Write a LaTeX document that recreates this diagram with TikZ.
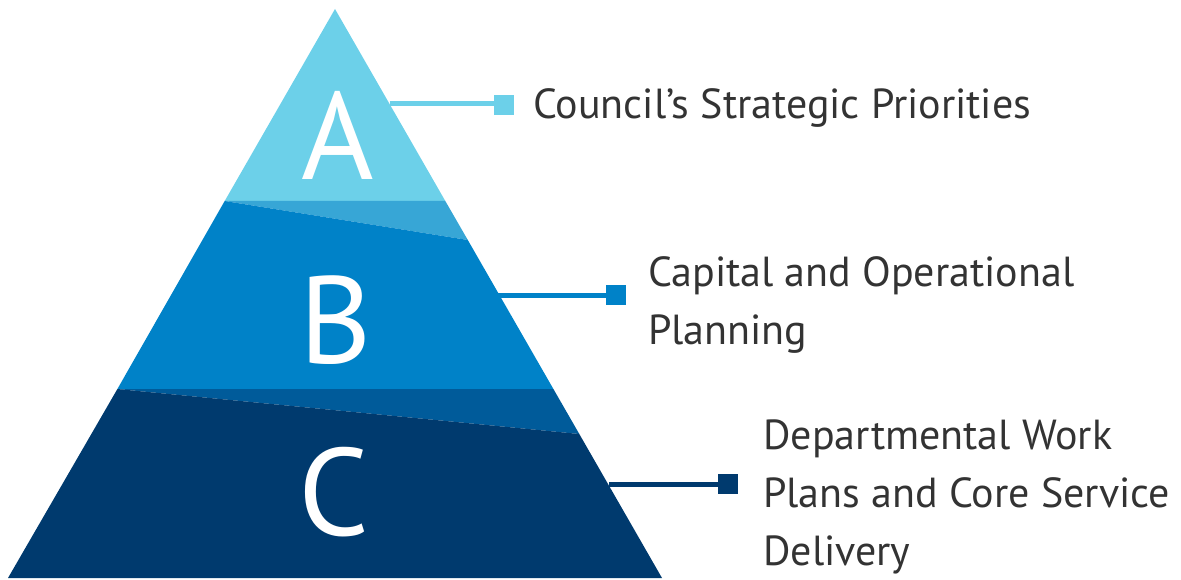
\documentclass[tikz,border=0pt]{standalone}
\usepackage{fontspec}
\setmainfont{PT Sans}
\definecolor{cA}{HTML}{6CD0E9}
\definecolor{cAB}{HTML}{37A6D6}
\definecolor{cB}{HTML}{0082C8}
\definecolor{cBC}{HTML}{005B9A}
\definecolor{cC}{HTML}{003A6E}
\definecolor{txt}{HTML}{333333}
\begin{document}
\begin{tikzpicture}[x=1pt,y=-1pt,
  lbl/.style={anchor=base west,inner sep=0pt,text=txt,font=\fontsize{42}{50}\selectfont},
  big/.style={anchor=base,inner sep=0pt,text=white,font=\fontsize{124}{130}\selectfont},
  sq/.style={minimum size=20pt,inner sep=0pt,fill=#1},
  conn/.style={line width=5pt,draw=#1}]
\useasboundingbox (0,0) rectangle (1181,580);
% pyramid
\coordinate (apex) at (335,9);
\coordinate (aL) at (224.7,201);
\coordinate (aR) at (445.3,201);
\coordinate (abR) at (467.8,240);
\coordinate (bL) at (117.4,389);
\coordinate (bR) at (553.4,389);
\coordinate (bcR) at (579.3,434);
\coordinate (cL) at (8,578);
\coordinate (cR) at (662,578);
\fill[cA] (apex) -- (aR) -- (aL) -- cycle;
\fill[cAB] (aL) -- (aR) -- (abR) -- cycle;
\fill[cB] (aL) -- (abR) -- (bR) -- (bL) -- cycle;
\fill[cBC] (bL) -- (bR) -- (bcR) -- cycle;
\fill[cC] (bL) -- (bcR) -- (cR) -- (cL) -- cycle;
% letters
\node[big] (A) at (338,180) {A};
\node[big] (B) at (336,363) {B};
\node[big] (C) at (334,535) {C};
% connectors
\coordinate (eA) at (389.6,104);
\coordinate (eB) at (498,295);
\coordinate (eC) at (609,484);
\node[sq=cA] (sA) at (504,105) {};
\node[sq=cB] (sB) at (616,295) {};
\node[sq=cC] (sC) at (728,484) {};
\draw[conn=cA] (eA) -- (sA.west |- eA);
\draw[conn=cB] (eB) -- (sB.west |- eB);
\draw[conn=cC] (eC) -- (sC.west |- eC);
% labels
\node[lbl] (tA) at (533,119) {Council’s Strategic Priorities};
\node[lbl] (tB1) at (648,287) {Capital and Operational};
\node[lbl] (tB2) at (648,344) {Planning};
\node[lbl] (tC1) at (763,449) {Departmental Work};
\node[lbl] (tC2) at (763,507) {Plans and Core Service};
\node[lbl] (tC3) at (763,565) {Delivery};
\end{tikzpicture}
\end{document}
